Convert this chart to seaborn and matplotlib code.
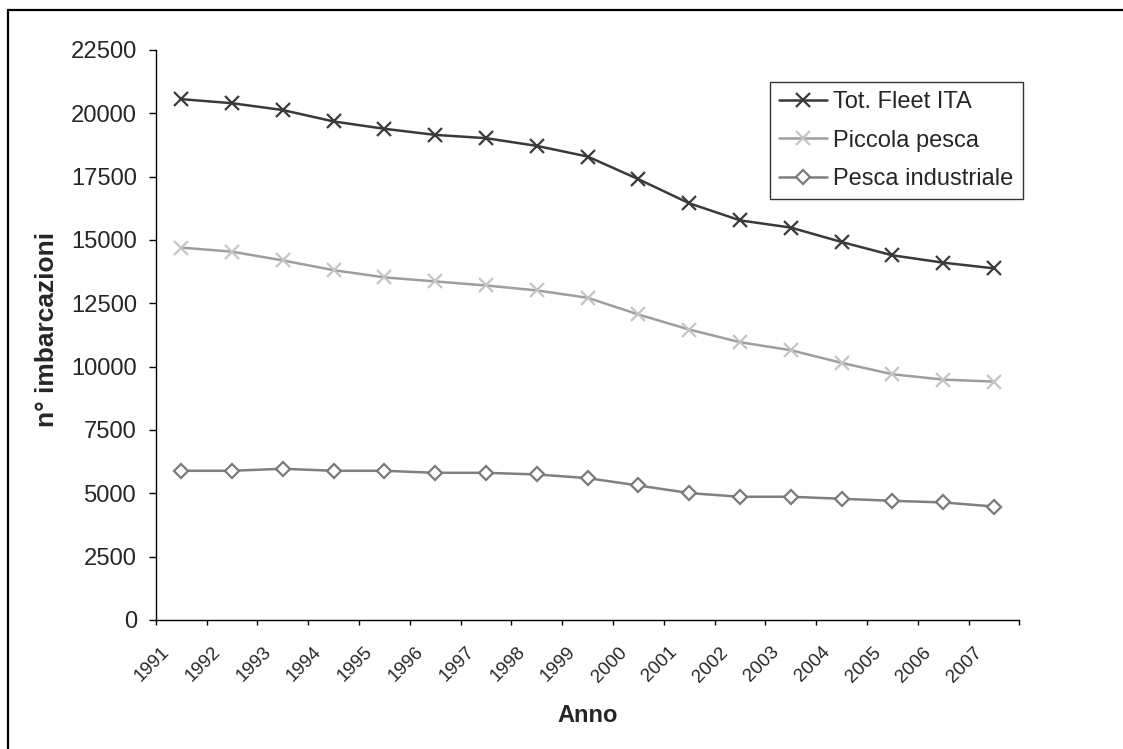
import matplotlib
matplotlib.use("Agg")
import matplotlib.pyplot as plt
from matplotlib.lines import Line2D
import numpy as np
import pandas as pd
import seaborn as sns

# Fleet size by year (number of vessels)
years = ["1991", "1992", "1993", "1994", "1995", "1996", "1997", "1998", "1999",
         "2000", "2001", "2002", "2003", "2004", "2005", "2006", "2007"]
tot_fleet = [20560, 20400, 20130, 19680, 19390, 19150, 19020, 18715, 18295,
             17400, 16450, 15775, 15490, 14920, 14395, 14105, 13880]
piccola_pesca = [14700, 14540, 14195, 13810, 13525, 13365, 13205, 13010, 12720,
                 12060, 11465, 10965, 10650, 10150, 9700, 9490, 9410]
pesca_industriale = [5890, 5890, 5970, 5890, 5890, 5810, 5810, 5745, 5600,
                     5310, 5010, 4865, 4865, 4785, 4705, 4640, 4480]
series_names = ["Tot. Fleet ITA", "Piccola pesca", "Pesca industriale"]
y_ticks = [0, 2500, 5000, 7500, 10000, 12500, 15000, 17500, 20000, 22500]

sns.set_style("white")
plt.rcParams["font.family"] = ["Liberation Sans", "DejaVu Sans"]

FS = 17.0
W, H = 1123, 749
fig = plt.figure(figsize=(W / 100, H / 100), dpi=100)
fig.patch.set_facecolor("white")

# Plot area in pixel coordinates
x0, x1, ytop, ybot = 155.7, 1019.5, 50, 620
ax = fig.add_axes([x0 / W, 1 - ybot / H, (x1 - x0) / W, (ybot - ytop) / H])

df = pd.DataFrame({
    "pos": np.arange(len(years)),
    "anno": years,
    series_names[0]: tot_fleet,
    series_names[1]: piccola_pesca,
    series_names[2]: pesca_industriale,
})

styles = {
    series_names[0]: dict(color="#3a3a3a", marker="x", markersize=10.5,
                          markeredgecolor="#3a3a3a", markerfacecolor="#3a3a3a",
                          markeredgewidth=1.6, linewidth=1.8),
    series_names[1]: dict(color="#9e9e9e", marker="x", markersize=10.5,
                          markeredgecolor="#c4c4c4", markerfacecolor="#c4c4c4",
                          markeredgewidth=1.6, linewidth=1.8),
    series_names[2]: dict(color="#808080", marker="D", markersize=7,
                          markeredgecolor="#7a7a7a", markerfacecolor="white",
                          markeredgewidth=1.6, linewidth=1.8),
}

for name in series_names:
    sns.lineplot(data=df, x="pos", y=name, ax=ax, label=name, **styles[name])

# Axes styling: category axis with ticks between categories
ax.set_xlim(-0.5, len(years) - 0.5)
ax.set_ylim(0, 22500)
ax.set_yticks(y_ticks)
ax.set_yticklabels([str(v) for v in y_ticks])
ax.set_xticks(np.arange(len(years) + 1) - 0.5)
ax.set_xticklabels([])
ax.set_xticks(np.arange(len(years)) - 0.4, minor=True)
ax.set_xticklabels(years, minor=True, rotation=45, ha="right", va="top",
                   rotation_mode="anchor", fontsize=13.5)
ax.tick_params(axis="x", which="major", direction="out", length=3.8, width=1,
               color="black", bottom=True)
ax.tick_params(axis="x", which="minor", length=0, pad=17, bottom=True)
ax.tick_params(axis="y", direction="out", length=5.3, width=1, color="black",
               labelsize=17.1, pad=8.2, left=True)
for side in ["top", "right"]:
    ax.spines[side].set_visible(False)
for side in ["left", "bottom"]:
    ax.spines[side].set_color("black")
    ax.spines[side].set_linewidth(1.0)
ax.set_xlabel("")
ax.set_ylabel("")
ax.grid(False)

fig.text(588 / W, 1 - 715 / H, "Anno", ha="center", va="center",
         fontsize=FS, fontweight="bold")
fig.text(47 / W, 1 - 329 / H, "n° imbarcazioni", ha="center", va="center",
         rotation=90, fontsize=19, fontweight="bold")

leg = ax.legend(loc="upper right", bbox_to_anchor=(1023 / W, 1 - 82 / H),
                bbox_transform=fig.transFigure, borderaxespad=0,
                fontsize=FS, frameon=True, fancybox=False, shadow=False,
                handlelength=2.0, handletextpad=0.28, labelspacing=0.69,
                borderpad=0.4, numpoints=1)
leg.get_frame().set_edgecolor("black")
leg.get_frame().set_linewidth(1.0)

# Chart frame: left and top edges
fig.add_artist(Line2D([8 / W, 8 / W], [0, 1 - 10 / H], transform=fig.transFigure,
                      color="black", linewidth=1.6))
fig.add_artist(Line2D([8 / W, 1], [1 - 10 / H, 1 - 10 / H], transform=fig.transFigure,
                      color="black", linewidth=1.6))

fig.savefig("out.png", dpi=100)
